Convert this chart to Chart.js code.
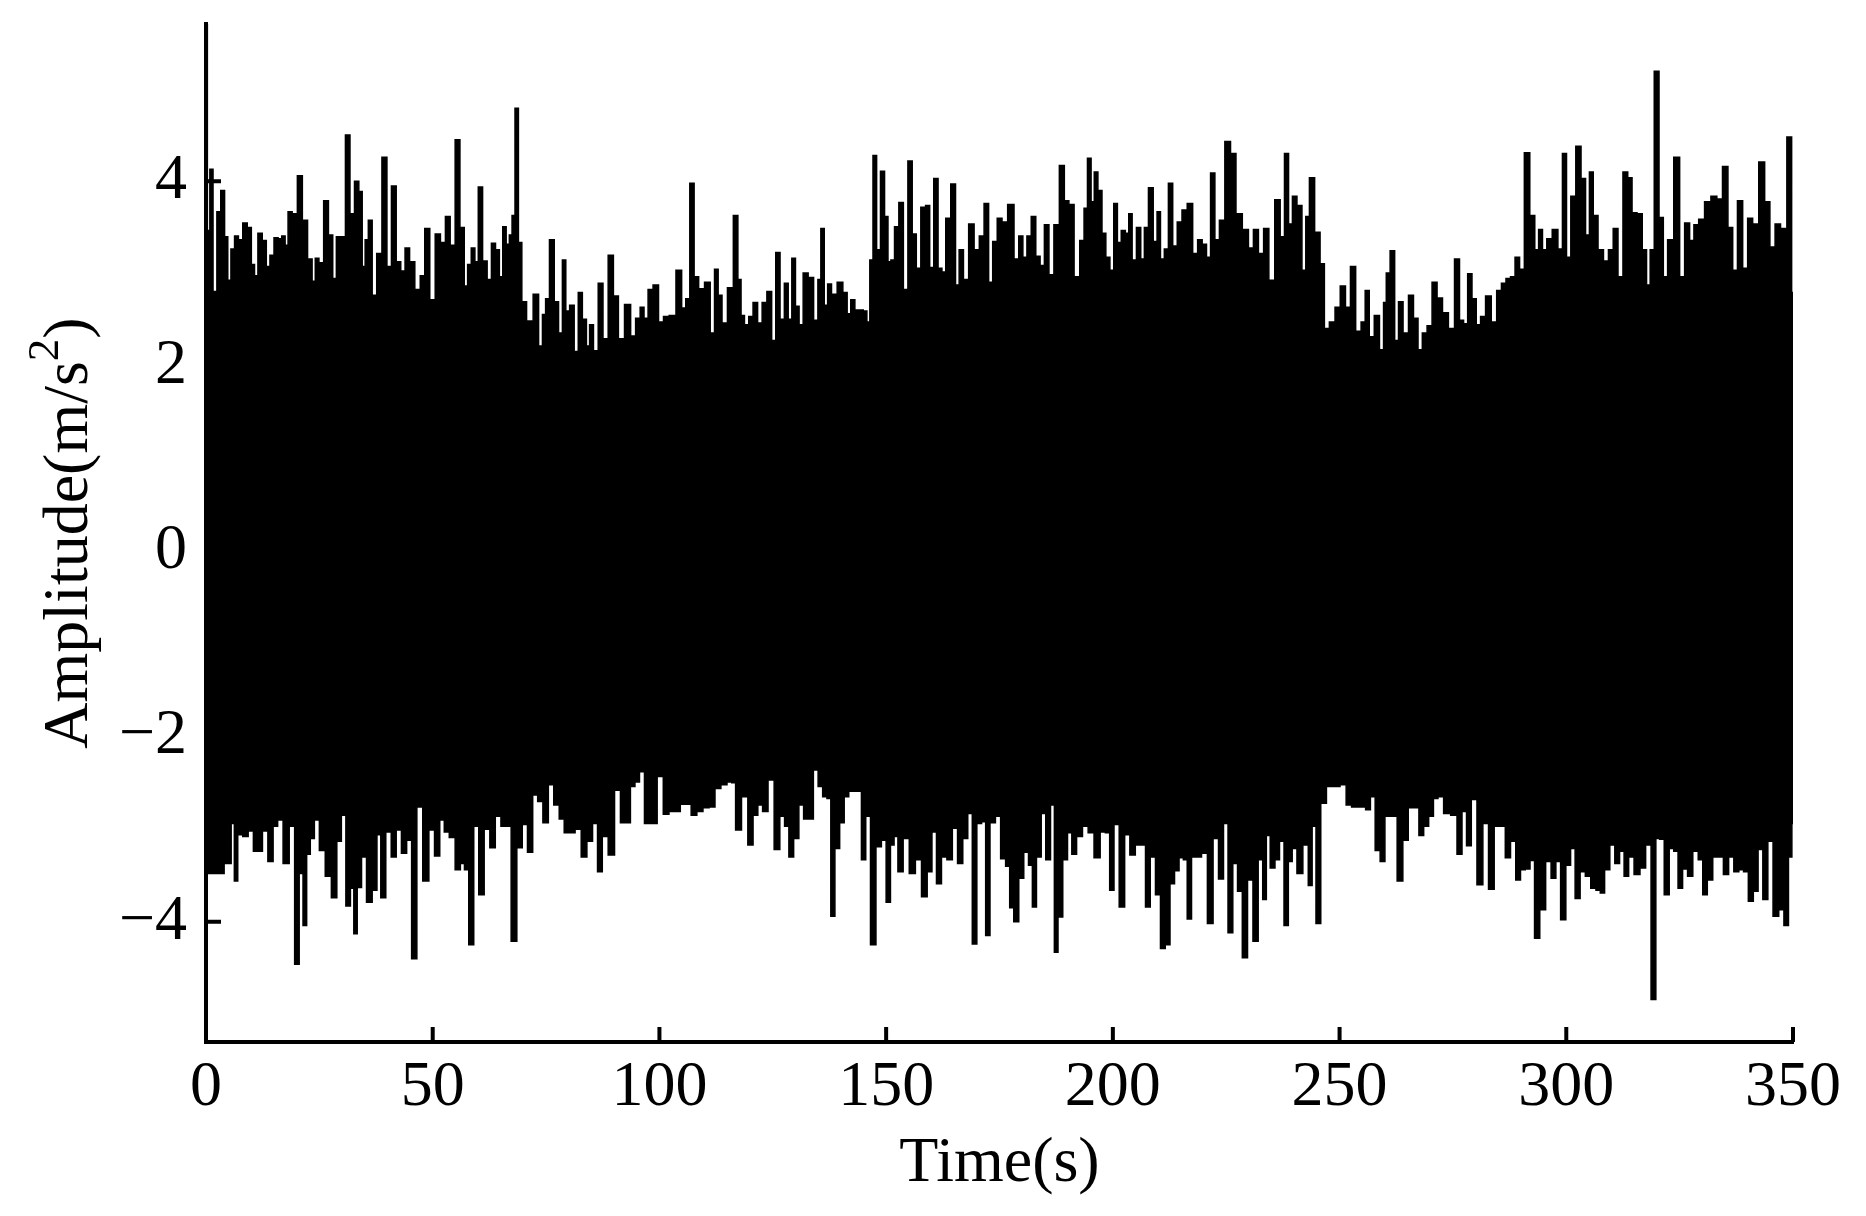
<!DOCTYPE html>
<html>
<head>
<meta charset="utf-8">
<title>Amplitude vs time</title>
<script src="https://cdn.jsdelivr.net/npm/chart.js@4.4.0/dist/chart.umd.min.js"></script>
<style>
  html, body { margin: 0; padding: 0; background: #fff; }
  canvas { display: block; }
</style>
</head>
<body>
<canvas id="chart" width="1866" height="1216"></canvas>
<script>
// upper / lower peaks of the record (about one per second)
const upperT = [
  0.0, 0.6, 1.1, 2.0, 2.8, 3.7, 4.5, 5.1, 5.9, 6.7, 7.6, 8.6, 9.6, 10.4, 11.0, 11.9, 12.9, 13.7, 14.5, 15.5,
  16.3, 17.1, 17.8, 18.4, 19.6, 20.7, 21.8, 23.0, 23.8, 24.4, 25.4, 26.5, 27.5, 28.4, 29.1, 30.2, 31.3, 32.2, 33.3, 34.1,
  34.8, 35.4, 36.2, 37.1, 38.2, 39.4, 40.4, 41.4, 42.5, 43.4, 44.4, 45.4, 46.7, 47.8, 48.7, 50.0, 51.1, 52.3, 53.3, 54.4,
  55.5, 56.5, 57.4, 58.0, 59.0, 59.6, 60.5, 61.5, 62.5, 63.4, 64.3, 65.1, 65.8, 66.6, 67.2, 67.8, 68.5, 69.3, 70.0, 71.4,
  72.9, 73.8, 74.6, 75.2, 76.3, 77.3, 78.2, 79.0, 79.7, 80.7, 81.7, 82.5, 83.5, 84.3, 84.9, 86.0, 87.0, 88.1, 89.3, 90.4,
  91.5, 93.1, 94.2, 95.3, 96.2, 97.0, 98.0, 99.2, 100.4, 101.4, 102.9, 104.4, 105.4, 106.2, 107.2, 108.1, 109.2, 110.7, 111.7, 112.6,
  113.3, 114.3, 115.7, 116.9, 117.7, 118.3, 119.2, 120.2, 121.1, 122.2, 123.1, 124.3, 125.2, 126.1, 127.1, 128.0, 128.8, 129.6, 130.4, 131.2,
  132.2, 133.4, 134.6, 135.3, 135.9, 136.8, 137.4, 138.5, 139.9, 141.0, 141.8, 142.6, 143.6, 144.5, 145.4, 146.1, 146.7, 147.5, 148.3, 149.2,
  150.1, 150.7, 151.4, 152.3, 153.3, 154.3, 155.3, 156.2, 157.1, 158.2, 159.2, 160.0, 161.0, 161.9, 162.7, 163.6, 164.9, 165.7, 166.5, 167.6,
  168.8, 170.0, 171.1, 172.1, 173.1, 173.9, 175.1, 176.0, 177.6, 178.8, 179.7, 180.6, 181.5, 182.5, 183.5, 184.4, 185.4, 186.4, 187.6, 188.8,
  189.8, 190.8, 192.1, 193.3, 194.0, 194.8, 195.6, 196.2, 197.2, 198.0, 198.9, 199.8, 200.6, 201.4, 202.3, 203.2, 203.8, 204.7, 205.7, 206.6,
  207.3, 208.4, 209.4, 210.1, 210.9, 211.8, 212.7, 213.7, 214.7, 215.8, 217.0, 218.2, 219.2, 220.2, 221.1, 222.0, 223.0, 224.0, 225.4, 226.5,
  227.8, 229.3, 230.5, 231.5, 232.7, 233.8, 235.0, 236.4, 237.4, 238.3, 239.2, 240.0, 241.2, 242.2, 242.9, 243.8, 245.2, 246.2, 247.1, 248.4,
  249.6, 250.7, 251.9, 252.9, 254.2, 255.3, 256.0, 257.1, 258.2, 259.4, 260.0, 260.6, 261.7, 262.6, 263.4, 264.6, 265.8, 266.8, 267.8, 268.7,
  269.9, 270.9, 272.1, 273.3, 274.7, 276.0, 276.9, 277.8, 278.7, 279.7, 280.6, 281.6, 282.8, 284.1, 285.2, 286.2, 287.2, 288.2, 289.2, 290.2,
  291.3, 292.6, 293.5, 294.3, 295.2, 296.2, 297.6, 298.7, 299.6, 300.5, 301.5, 302.7, 303.8, 304.7, 305.5, 306.4, 307.6, 308.8, 309.8, 310.9,
  311.9, 313.1, 314.0, 315.0, 316.2, 317.3, 318.1, 318.9, 319.9, 321.0, 321.8, 322.9, 324.5, 325.5, 326.7, 327.7, 328.6, 329.8, 331.2, 332.6,
  333.8, 335.1, 336.2, 337.2, 338.3, 339.5, 340.5, 341.7, 343.2, 344.3, 345.5, 346.6, 347.9, 349.4, 350.0
];
const upperV = [
  5.70, 3.47, 4.13, 2.81, 3.67, 3.90, 3.40, 2.93, 3.27, 3.41, 3.37, 3.55, 3.50, 3.10, 2.98, 3.44, 3.36, 3.08, 3.20, 3.39,
  3.38, 3.41, 3.31, 3.67, 3.65, 4.06, 3.58, 3.16, 2.92, 3.17, 3.12, 3.79, 3.42, 2.95, 3.40, 3.40, 4.50, 3.65, 4.00, 3.89,
  3.08, 3.37, 3.58, 2.77, 3.22, 4.26, 3.08, 3.95, 3.13, 3.03, 3.28, 3.13, 2.83, 2.98, 3.49, 2.72, 3.43, 3.34, 3.62, 3.31,
  4.45, 3.50, 2.87, 3.10, 3.28, 3.13, 3.94, 3.14, 2.94, 3.33, 3.26, 2.97, 3.51, 3.32, 3.42, 3.63, 4.79, 3.34, 2.70, 2.49,
  2.78, 2.22, 2.56, 2.73, 3.37, 2.70, 2.36, 3.15, 2.60, 2.66, 2.16, 2.80, 2.51, 2.22, 2.45, 2.17, 2.90, 2.30, 3.20, 2.76,
  2.30, 2.67, 2.33, 2.52, 2.64, 2.52, 2.83, 2.88, 2.48, 2.54, 2.55, 3.04, 2.63, 2.73, 3.98, 2.97, 2.84, 2.91, 2.36, 3.05,
  2.77, 2.47, 2.85, 3.63, 2.94, 2.55, 2.45, 2.54, 2.69, 2.47, 2.69, 2.81, 2.28, 3.23, 2.51, 2.90, 2.51, 3.17, 2.65, 2.45,
  3.01, 2.96, 2.50, 2.94, 3.49, 2.66, 2.89, 2.78, 2.91, 2.80, 2.57, 2.72, 2.61, 2.61, 2.60, 2.48, 3.15, 4.28, 3.26, 4.11,
  3.62, 3.13, 3.15, 3.51, 3.77, 2.83, 4.22, 3.43, 3.06, 3.72, 3.74, 3.07, 4.03, 3.06, 3.02, 3.60, 3.97, 2.88, 3.26, 2.94,
  3.54, 3.26, 3.41, 3.76, 2.91, 3.35, 3.60, 3.56, 3.75, 3.16, 3.41, 3.18, 3.41, 3.62, 3.19, 3.09, 3.53, 2.99, 3.53, 4.17,
  3.79, 3.75, 2.97, 3.36, 3.71, 4.25, 3.78, 4.10, 3.90, 3.44, 3.18, 3.04, 3.76, 3.34, 3.47, 3.44, 3.65, 3.15, 3.50, 3.16,
  3.50, 3.93, 3.35, 3.67, 3.16, 3.27, 3.98, 3.30, 3.56, 3.69, 3.76, 3.22, 3.37, 3.32, 3.18, 4.09, 3.37, 3.58, 4.43, 4.30,
  3.65, 3.48, 3.28, 3.48, 3.22, 3.49, 2.93, 3.80, 3.40, 4.30, 3.54, 3.84, 3.74, 3.04, 3.62, 4.04, 3.45, 3.11, 2.41, 2.48,
  2.64, 2.87, 2.64, 3.08, 2.38, 2.48, 2.82, 2.32, 2.55, 2.18, 2.69, 3.01, 3.25, 2.28, 2.70, 2.36, 2.77, 2.52, 2.18, 2.36,
  2.44, 2.91, 2.74, 2.58, 2.41, 3.16, 2.50, 2.46, 3.00, 2.73, 2.45, 2.54, 2.76, 2.48, 2.82, 2.90, 2.95, 2.97, 3.18, 3.05,
  4.31, 3.63, 3.26, 3.48, 3.26, 3.38, 3.48, 3.27, 4.30, 3.18, 3.84, 4.38, 4.03, 3.42, 4.10, 3.63, 3.26, 3.14, 3.26, 3.49,
  2.97, 4.10, 4.04, 3.66, 3.65, 3.26, 2.88, 3.26, 5.19, 3.61, 2.97, 3.37, 4.26, 2.97, 3.55, 3.36, 3.53, 3.59, 3.78, 3.84,
  3.81, 4.16, 3.50, 3.04, 3.79, 3.06, 3.60, 3.54, 4.21, 3.78, 3.29, 3.54, 3.49, 4.48, 2.80
];
const lowerT = [
  0.0, 1.5, 2.6, 3.6, 4.4, 5.1, 6.0, 6.5, 7.5, 8.7, 9.9, 11.0, 11.9, 13.0, 14.3, 15.3, 16.3, 17.7, 19.0, 20.1,
  21.0, 21.8, 22.6, 23.4, 24.4, 25.6, 27.0, 28.3, 29.4, 30.3, 31.4, 32.3, 32.9, 33.8, 34.8, 36.0, 37.3, 38.1, 39.0, 40.3,
  41.4, 42.5, 43.7, 44.8, 45.9, 47.1, 48.5, 49.8, 51.0, 52.1, 53.0, 54.3, 55.6, 56.6, 57.4, 58.5, 59.6, 60.7, 62.0, 63.2,
  64.4, 65.7, 66.7, 67.9, 69.2, 70.3, 71.5, 72.6, 73.7, 74.9, 76.1, 77.3, 78.5, 79.5, 80.7, 82.1, 83.4, 84.6, 85.9, 86.8,
  88.0, 89.4, 90.8, 92.0, 93.1, 94.1, 95.1, 96.1, 97.3, 98.8, 100.2, 101.5, 102.7, 104.0, 105.2, 106.4, 107.6, 108.9, 110.3, 111.6,
  112.9, 114.2, 115.6, 116.3, 117.3, 118.9, 120.1, 121.2, 122.2, 123.3, 124.6, 126.0, 127.1, 128.1, 129.0, 130.2, 131.3, 132.3, 133.4, 134.5,
  135.5, 136.5, 137.4, 138.2, 139.2, 140.3, 141.2, 142.3, 143.2, 144.1, 145.0, 146.0, 147.1, 148.4, 149.5, 150.5, 151.4, 152.1, 153.1, 154.4,
  155.8, 157.1, 158.5, 159.6, 160.6, 161.6, 162.8, 164.0, 165.2, 166.3, 167.5, 168.5, 169.5, 170.5, 171.6, 172.3, 173.5, 174.7, 175.8, 176.9,
  177.6, 178.7, 179.8, 180.9, 181.9, 182.6, 183.7, 184.7, 185.7, 186.8, 187.4, 188.4, 189.5, 190.5, 191.4, 192.6, 194.0, 195.1, 196.6, 197.8,
  198.9, 199.7, 200.8, 202.0, 203.2, 204.3, 205.6, 206.7, 207.7, 208.8, 210.0, 211.0, 212.1, 213.1, 214.1, 215.1, 216.0, 216.8, 217.9, 218.9,
  220.2, 221.5, 222.7, 223.9, 224.9, 225.9, 227.0, 228.0, 229.1, 230.3, 231.5, 232.6, 233.5, 234.2, 235.2, 236.3, 237.2, 238.3, 239.1, 240.0,
  241.2, 242.6, 243.6, 244.3, 245.3, 246.4, 247.8, 249.4, 250.8, 252.1, 253.2, 254.1, 255.2, 256.3, 257.3, 258.4, 259.5, 260.5, 262.0, 263.4,
  264.5, 265.8, 267.0, 268.0, 269.1, 270.2, 271.2, 272.2, 273.7, 275.3, 276.5, 277.5, 278.5, 279.6, 281.0, 282.2, 283.5, 284.7, 286.0, 287.1,
  288.3, 289.4, 290.4, 291.5, 292.5, 293.5, 294.8, 296.1, 297.2, 298.2, 299.3, 300.5, 301.4, 302.5, 303.6, 304.8, 306.0, 307.1, 307.9, 309.0,
  310.2, 311.2, 312.3, 313.2, 314.3, 315.6, 316.9, 318.1, 319.3, 320.2, 321.0, 322.2, 323.2, 324.2, 325.1, 326.2, 327.3, 328.5, 329.7, 330.5,
  331.7, 332.9, 334.1, 335.2, 336.4, 337.5, 338.6, 339.6, 340.7, 341.8, 342.8, 343.9, 345.0, 346.2, 347.5, 348.5, 349.5, 350.0
];
const lowerV = [
  -3.48, -3.48, -3.48, -3.48, -3.37, -3.37, -2.94, -3.56, -3.06, -3.08, -3.02, -3.24, -3.24, -3.02, -3.35, -2.97, -2.90, -3.37, -2.97, -4.46,
  -3.48, -4.04, -3.27, -3.10, -2.90, -3.23, -3.51, -3.74, -3.13, -2.85, -3.83, -3.64, -4.13, -3.63, -3.30, -3.79, -3.66, -3.06, -3.74, -3.03,
  -3.30, -3.01, -3.26, -3.12, -4.40, -2.76, -3.56, -3.01, -3.29, -2.90, -3.03, -3.09, -3.44, -3.37, -3.44, -4.25, -2.97, -3.71, -3.00, -3.20,
  -2.86, -2.97, -2.97, -4.21, -3.20, -2.95, -3.25, -2.63, -2.70, -2.93, -2.52, -2.74, -2.89, -3.04, -3.04, -3.00, -3.30, -3.13, -2.94, -3.46,
  -3.08, -3.28, -2.58, -2.93, -2.93, -2.54, -2.49, -2.38, -2.94, -2.94, -2.43, -2.84, -2.81, -2.81, -2.73, -2.73, -2.85, -2.81, -2.77, -2.76,
  -2.56, -2.52, -2.49, -2.50, -3.01, -2.65, -3.17, -2.85, -2.74, -2.81, -2.47, -3.22, -2.86, -2.97, -3.30, -3.10, -2.74, -2.89, -2.89, -2.36,
  -2.54, -2.65, -2.67, -3.94, -3.21, -2.93, -2.65, -2.59, -2.59, -2.59, -3.33, -2.86, -4.25, -3.19, -3.12, -3.79, -3.17, -3.08, -3.46, -3.10,
  -3.48, -3.33, -3.73, -3.46, -3.03, -3.59, -3.30, -3.33, -2.99, -3.37, -3.10, -2.83, -4.24, -2.94, -2.92, -4.15, -2.93, -2.86, -3.32, -3.40,
  -3.85, -4.00, -3.53, -3.25, -3.39, -3.84, -3.30, -2.83, -3.33, -2.74, -4.33, -3.95, -3.33, -3.04, -3.27, -3.08, -2.97, -3.04, -3.31, -3.03,
  -3.04, -3.66, -2.95, -3.84, -3.06, -3.28, -3.17, -3.17, -3.84, -3.30, -3.71, -4.29, -4.25, -3.59, -3.45, -3.31, -3.33, -3.97, -3.30, -3.30,
  -3.26, -4.02, -3.10, -3.54, -2.94, -4.12, -3.37, -3.67, -4.39, -3.55, -4.21, -3.33, -3.76, -3.07, -3.42, -3.33, -3.13, -4.04, -3.35, -3.21,
  -3.48, -3.17, -3.61, -2.97, -4.02, -2.72, -2.54, -2.54, -2.52, -2.74, -2.76, -2.76, -2.76, -2.79, -2.65, -3.23, -3.35, -2.86, -2.86, -3.56,
  -3.12, -2.77, -2.77, -3.07, -2.97, -2.86, -2.67, -2.65, -2.83, -2.85, -3.27, -2.81, -3.18, -2.68, -3.60, -2.94, -3.65, -2.97, -2.97, -3.31,
  -3.13, -3.55, -3.44, -3.43, -3.34, -4.18, -3.87, -3.35, -3.53, -3.35, -3.98, -3.39, -3.21, -3.75, -3.46, -3.51, -3.64, -3.66, -3.69, -3.44,
  -3.17, -3.37, -3.24, -3.51, -3.30, -3.49, -3.42, -3.17, -4.84, -3.10, -3.11, -3.71, -3.21, -3.24, -3.64, -3.43, -3.51, -3.24, -3.33, -3.71,
  -3.55, -3.30, -3.30, -3.49, -3.30, -3.46, -3.44, -3.46, -3.78, -3.67, -3.22, -3.76, -3.13, -3.94, -3.87, -4.04, -3.30, -2.94
];

const FONT = '"Liberation Serif", "Times New Roman", serif';
const FONT_SIZE = 64;

const toPoints = (ts, vs) => ts.map((t, i) => ({ x: t, y: vs[i] }));

// inward tick marks and the two axis titles (y title has a superscript)
const axisDecor = {
  id: 'axisDecor',
  afterDraw(chart) {
    const { ctx, chartArea: a, scales: { x, y } } = chart;
    ctx.save();
    ctx.strokeStyle = '#000';
    ctx.lineWidth = 4;
    ctx.beginPath();
    x.ticks.forEach(t => {
      const px = x.getPixelForValue(t.value);
      ctx.moveTo(px, a.bottom);
      ctx.lineTo(px, a.bottom - 15);
    });
    y.ticks.forEach(t => {
      const py = y.getPixelForValue(t.value);
      ctx.moveTo(a.left, py);
      ctx.lineTo(a.left + 15, py);
    });
    ctx.stroke();

    ctx.fillStyle = '#000';
    ctx.textBaseline = 'alphabetic';
    ctx.font = FONT_SIZE + 'px ' + FONT;
    ctx.textAlign = 'center';
    ctx.fillText('Time(s)', (a.left + a.right) / 2, 1181);

    const main = 'Amplitude(m/s', sup = '2', tail = ')';
    const supFont = Math.round(FONT_SIZE * 0.7) + 'px ' + FONT;
    const wMain = ctx.measureText(main).width;
    const wTail = ctx.measureText(tail).width;
    ctx.font = supFont;
    const wSup = ctx.measureText(sup).width;
    const total = wMain + wSup + wTail;

    ctx.translate(87, (a.top + a.bottom) / 2);
    ctx.rotate(-Math.PI / 2);
    ctx.textAlign = 'left';
    let cx = -total / 2;
    ctx.font = FONT_SIZE + 'px ' + FONT;
    ctx.fillText(main, cx, 0);
    cx += wMain;
    ctx.font = supFont;
    ctx.fillText(sup, cx, -29);
    cx += wSup;
    ctx.font = FONT_SIZE + 'px ' + FONT;
    ctx.fillText(tail, cx, 0);
    ctx.restore();
  }
};

new Chart(document.getElementById('chart').getContext('2d'), {
  type: 'line',
  data: {
    datasets: [
      {
        label: 'upper',
        data: toPoints(upperT, upperV),
        stepped: 'middle',
        borderColor: '#000',
        backgroundColor: '#000',
        borderWidth: 1.5,
        pointRadius: 0,
        fill: '+1'
      },
      {
        label: 'lower',
        data: toPoints(lowerT, lowerV),
        stepped: 'middle',
        borderColor: '#000',
        backgroundColor: '#000',
        borderWidth: 1.5,
        pointRadius: 0,
        fill: false
      }
    ]
  },
  options: {
    responsive: false,
    animation: false,
    devicePixelRatio: 1,
    layout: { autoPadding: false, padding: { left: 0, top: 24, right: 73, bottom: 0 } },
    plugins: { legend: { display: false }, tooltip: { enabled: false } },
    scales: {
      x: {
        type: 'linear', min: 0, max: 350,
        afterFit(s) { s.height = 174; s.paddingLeft = 0; s.paddingRight = 0; },
        grid: { display: false, drawTicks: false },
        border: { display: true, color: '#000', width: 4 },
        ticks: { stepSize: 50, maxRotation: 0, color: '#000', padding: 8,
                 font: { family: FONT, size: FONT_SIZE } }
      },
      y: {
        type: 'linear', min: -5.3, max: 5.7,
        afterFit(s) { s.width = 206; s.paddingTop = 0; s.paddingBottom = 0; },
        grid: { display: false, drawTicks: false },
        border: { display: true, color: '#000', width: 4 },
        ticks: { stepSize: 2, includeBounds: false, color: '#000', padding: 19,
                 font: { family: FONT, size: FONT_SIZE },
                 callback: v => String(v).replace('-', '\u2212') }
      }
    }
  },
  plugins: [axisDecor]
});
</script>
</body>
</html>
